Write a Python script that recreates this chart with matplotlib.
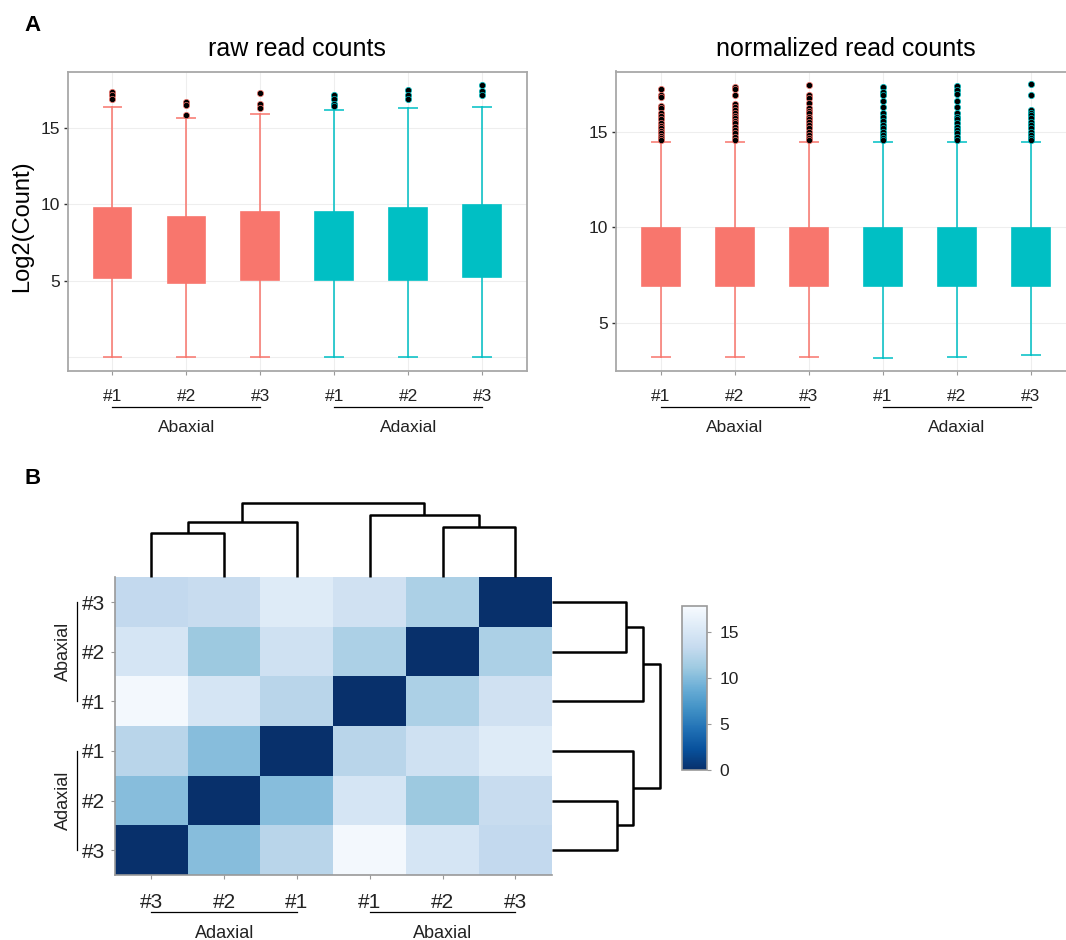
import matplotlib
matplotlib.use('Agg')
import matplotlib.pyplot as plt
import matplotlib.transforms as mtransforms
import numpy as np

plt.rcParams['font.family'] = ['Liberation Sans', 'DejaVu Sans']

# ---- panel A data ----
box_labels = ['#1', '#2', '#3', '#1', '#2', '#3']
box_groups = ['Abaxial', 'Adaxial']
box_colors = ['#F8766D', '#F8766D', '#F8766D', '#00BFC4', '#00BFC4', '#00BFC4']

raw_q1 = [5.17, 4.85, 5.02, 5.02, 5.07, 5.24]
raw_q3 = [9.74, 9.20, 9.48, 9.53, 9.75, 9.97]
raw_med = [7.6, 7.1, 7.4, 7.4, 7.5, 7.7]
raw_whislo = [0.0, 0.0, 0.0, 0.0, 0.0, 0.0]
raw_whishi = [16.39, 15.67, 15.95, 16.18, 16.35, 16.39]
raw_fliers = [
    [17.35, 17.14, 16.88],
    [16.72, 16.50, 15.85],
    [17.27, 16.61, 16.33],
    [17.16, 16.94, 16.61, 16.44],
    [17.48, 17.16, 16.88],
    [17.81, 17.44, 17.16],
]

norm_q1 = [6.91, 6.91, 6.91, 6.91, 6.91, 6.91]
norm_q3 = [9.96, 9.96, 9.96, 9.96, 9.96, 9.96]
norm_med = [8.4, 8.4, 8.4, 8.4, 8.4, 8.4]
norm_whislo = [3.23, 3.23, 3.23, 3.19, 3.23, 3.30]
norm_whishi = [14.44, 14.44, 14.44, 14.47, 14.47, 14.47]
norm_fliers = [
    [17.22, 16.91, 16.82, 16.34, 16.21, 15.95, 15.81, 15.64, 15.46, 15.29,
     15.17, 15.05, 14.91, 14.77, 14.65, 14.55],
    [17.31, 17.20, 16.91, 16.44, 16.30, 16.13, 15.95, 15.81, 15.69, 15.57,
     15.43, 15.26, 15.08, 14.91, 14.74, 14.58],
    [17.43, 16.91, 16.74, 16.51, 16.21, 16.09, 15.95, 15.78, 15.64, 15.52,
     15.34, 15.17, 15.00, 14.82, 14.65, 14.55],
    [17.31, 17.08, 16.91, 16.61, 16.30, 15.95, 15.78, 15.55, 15.34, 15.17,
     15.00, 14.82, 14.65, 14.55],
    [17.38, 17.17, 16.96, 16.61, 16.27, 15.95, 15.78, 15.64, 15.46, 15.26,
     15.08, 14.91, 14.74, 14.58],
    [17.47, 16.91, 16.13, 15.99, 15.87, 15.69, 15.52, 15.34, 15.17, 15.00,
     14.82, 14.65, 14.55],
]

# ---- panel B data ----
col_labels = ['#3', '#2', '#1', '#1', '#2', '#3']   # Adaxial 3,2,1 | Abaxial 1,2,3
row_labels = ['#3', '#2', '#1', '#1', '#2', '#3']   # Abaxial 3,2,1 | Adaxial 1,2,3
dist = [
    [13.2, 13.6, 15.6, 14.3, 11.9, 0.0],
    [14.8, 11.1, 14.2, 11.9, 0.0, 11.9],
    [17.4, 14.8, 12.6, 0.0, 11.9, 14.3],
    [12.6, 10.1, 0.0, 12.6, 14.2, 15.6],
    [10.1, 0.0, 10.1, 14.8, 11.1, 13.6],
    [0.0, 10.1, 12.6, 17.4, 14.8, 13.2],
]
# merges (child a, child b, height); leaves 0..5 follow the column order
linkage = [(0, 1, 10.1), (4, 5, 11.5), (6, 2, 12.6), (3, 7, 14.2), (8, 9, 16.8)]

W, H = 1066, 940
fig = plt.figure(figsize=(W / 100, H / 100), dpi=100)


def px_rect(x0, y0, x1, y1):
    return [x0 / W, 1 - y1 / H, (x1 - x0) / W, (y1 - y0) / H]


def draw_box_panel(ax, q1, q3, med, wlo, whi, fliers, ylim, title):
    stats = []
    for i in range(6):
        stats.append(dict(q1=q1[i], q3=q3[i], med=med[i], whislo=wlo[i],
                          whishi=whi[i], fliers=fliers[i]))
    for i, st in enumerate(stats):
        c = box_colors[i]
        ax.bxp([st], positions=[i + 1], widths=0.51, capwidths=0.24,
               patch_artist=True, showfliers=True,
               boxprops=dict(facecolor=c, edgecolor=c, linewidth=1.2),
               whiskerprops=dict(color=c, linewidth=1.4, alpha=0.8),
               capprops=dict(color=c, linewidth=1.4, alpha=0.8),
               medianprops=dict(color=c, linewidth=1.2),
               flierprops=dict(marker='o', markerfacecolor='black',
                               markeredgecolor=c, markersize=4.5,
                               markeredgewidth=0.5),
               zorder=3)
    ax.set_xlim(0.392, 6.608)
    ax.set_ylim(*ylim)
    ax.set_yticks([5, 10, 15])
    ax.set_xticks(range(1, 7))
    ax.set_xticklabels(box_labels)
    ax.grid(True, color='#eeeeee', linewidth=0.8)
    ax.set_axisbelow(True)
    for s in ax.spines.values():
        s.set_color('#a8a8a8')
        s.set_linewidth(1.3)
    ax.tick_params(axis='y', length=3, width=1, color='#333333', pad=2.5,
                   labelsize=12.5, labelcolor='#222222')
    ax.tick_params(axis='x', length=3, width=0.8, color='#999999', pad=10,
                   labelsize=12.5, labelcolor='#222222')
    ax.set_title(title, fontsize=18, pad=11)
    tr = mtransforms.blended_transform_factory(ax.transData, ax.transAxes)
    for g, (a, b) in enumerate([(1, 3), (4, 6)]):
        ax.plot([a, b], [-0.12, -0.12], color='black', linewidth=0.9,
                transform=tr, clip_on=False)
        ax.text((a + b) / 2, -0.187, box_groups[g], transform=tr,
                ha='center', va='center', fontsize=12.5, color='#222222')


ax_raw = fig.add_axes(px_rect(67.5, 71.5, 527, 371))
draw_box_panel(ax_raw, raw_q1, raw_q3, raw_med, raw_whislo, raw_whishi,
               raw_fliers, (-0.92, 18.71), 'raw read counts')
ax_raw.axhline(0, color='#eeeeee', linewidth=0.8, zorder=0)

ax_norm = fig.add_axes(px_rect(615.7, 71.5, 1076, 371))
draw_box_panel(ax_norm, norm_q1, norm_q3, norm_med, norm_whislo, norm_whishi,
               norm_fliers, (2.49, 18.14), 'normalized read counts')

fig.text(22.5 / W, 1 - 226 / H, 'Log2(Count)', rotation=90, fontsize=17,
         ha='center', va='center')
fig.text(32.5 / W, 1 - 25.5 / H, 'A', fontsize=16, weight='bold',
         ha='center', va='center')
fig.text(33 / W, 1 - 478 / H, 'B', fontsize=16, weight='bold',
         ha='center', va='center')

# ---- heatmap ----
ax_hm = fig.add_axes(px_rect(115, 577.3, 551.7, 875))
vals = np.array(dist)
im = ax_hm.imshow(vals, cmap='Blues_r', vmin=0, vmax=17.8, aspect='auto',
                  interpolation='nearest')
ax_hm.set_xticks(range(6))
ax_hm.set_xticklabels(col_labels)
ax_hm.set_yticks(range(6))
ax_hm.set_yticklabels(row_labels)
ax_hm.tick_params(axis='x', length=3, color='#999999', pad=10, labelsize=15,
                  labelcolor='#222222')
ax_hm.tick_params(axis='y', length=3, color='#999999', pad=4, labelsize=15,
                  labelcolor='#222222')
ax_hm.spines['top'].set_visible(False)
ax_hm.spines['right'].set_visible(False)
for side in ['left', 'bottom']:
    ax_hm.spines[side].set_color('#999999')
    ax_hm.spines[side].set_linewidth(1.2)

trb = mtransforms.blended_transform_factory(ax_hm.transData, ax_hm.transAxes)
for name, (a, b) in zip(['Adaxial', 'Abaxial'], [(0, 2), (3, 5)]):
    ax_hm.plot([a, b], [-0.125, -0.125], color='black', linewidth=0.9,
               transform=trb, clip_on=False)
    ax_hm.text((a + b) / 2, -0.195, name, transform=trb, ha='center',
               va='center', fontsize=13, color='#222222')
trl = mtransforms.blended_transform_factory(ax_hm.transAxes, ax_hm.transData)
for name, (a, b) in zip(['Abaxial', 'Adaxial'], [(0, 2), (3, 5)]):
    ax_hm.plot([-0.088, -0.088], [a, b], color='black', linewidth=0.9,
               transform=trl, clip_on=False)
    ax_hm.text(-0.118, (a + b) / 2, name, transform=trl, ha='center',
               va='center', rotation=90, fontsize=13, color='#222222')


def dendro_segments(links, n_leaves):
    pos = {i: float(i) for i in range(n_leaves)}
    hgt = {i: 0.0 for i in range(n_leaves)}
    segs = []
    for k, (a, b, h) in enumerate(links):
        node = n_leaves + k
        segs.append(([pos[a], pos[a], pos[b], pos[b]], [hgt[a], h, h, hgt[b]]))
        pos[node] = (pos[a] + pos[b]) / 2
        hgt[node] = h
    return segs


segs = dendro_segments(linkage, 6)

ax_top = fig.add_axes(px_rect(115, 503.3, 551.7, 577.3))
for xs, hs in segs:
    ax_top.plot(xs, hs, color='black', linewidth=1.8, clip_on=False,
                solid_capstyle='butt')
ax_top.set_xlim(-0.5, 5.5)
ax_top.set_ylim(0, 16.8)
ax_top.axis('off')

ax_right = fig.add_axes(px_rect(551.7, 577.3, 660, 875))
for xs, hs in segs:
    # rows run in reverse column order
    ax_right.plot(hs, [5 - x for x in xs], color='black', linewidth=1.8,
                  clip_on=False, solid_capstyle='butt')
ax_right.set_ylim(5.5, -0.5)
ax_right.set_xlim(0, 16.8)
ax_right.axis('off')

cax = fig.add_axes(px_rect(682, 606, 707, 770))
cb = fig.colorbar(im, cax=cax, ticks=[0, 5, 10, 15])
cb.outline.set_edgecolor('#999999')
cb.outline.set_linewidth(1.2)
cax.tick_params(length=3, color='#999999', labelsize=12.5, pad=6,
                labelcolor='#222222')

fig.savefig('out.png', dpi=100)
